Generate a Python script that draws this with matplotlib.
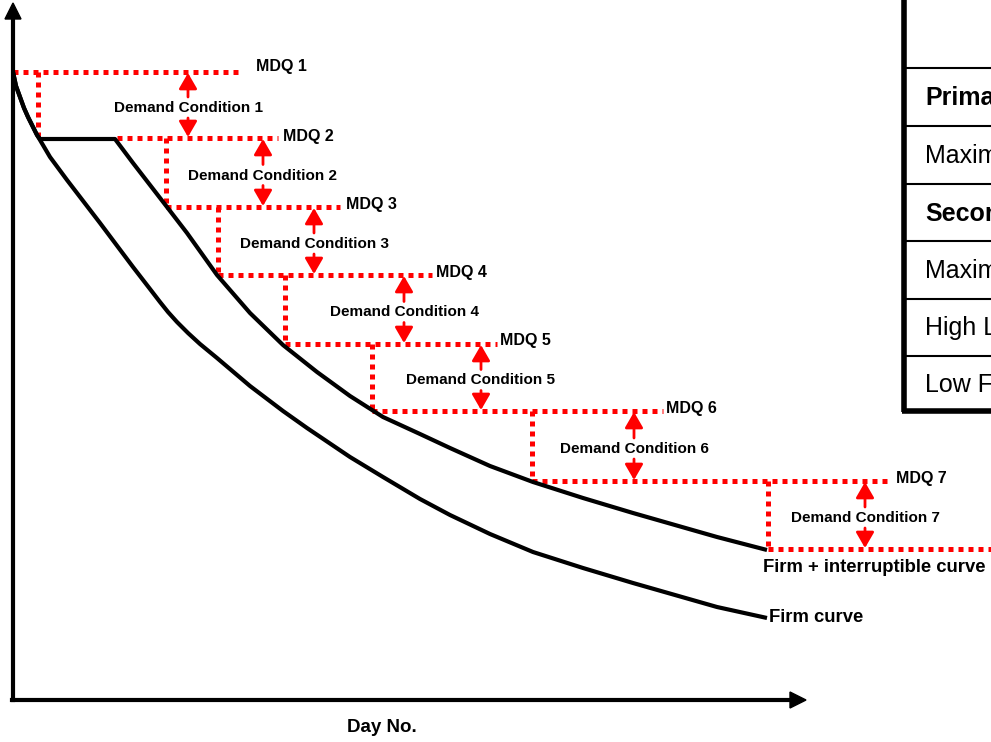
import numpy as np
import matplotlib.pyplot as plt
from matplotlib.patches import FancyArrowPatch, Polygon

plt.rcParams['font.family'] = ['Liberation Sans', 'DejaVu Sans']

# curves (x = day position, y = demand position, screen-like units, y grows downwards)
fi_x = [13, 16, 20, 24, 28, 33, 37, 40, 115, 133, 150, 167, 187, 217, 250, 283, 317,
        350, 383, 420, 450, 490, 533, 583, 633, 675, 717, 767]
fi_y = [72, 86, 97, 108, 117, 127, 135, 139, 139, 163, 185, 207, 233, 275, 313, 345, 372,
        396, 417, 434, 448, 466, 482, 498, 513, 525, 537, 550]
firm_x = [13, 16, 20, 24, 28, 33, 37, 40, 50, 67, 100, 133, 150, 160, 168, 177, 188, 200,
          217, 250, 283, 307, 350, 383, 420, 450, 490, 533, 583, 633, 675, 717, 767]
firm_y = [72, 86, 97, 108, 117, 127, 135, 140, 157, 180, 223, 267, 289, 302, 312, 322, 333, 344,
          358, 386, 411, 428, 457, 477, 499, 515, 534, 552, 568, 583, 595, 607, 618]

# MDQ levels and step geometry
mdq_y = [72, 138, 207, 275, 344, 411, 481, 549]
step_x = [13, 38, 166, 218, 285, 372, 532, 768]
line_end = [243, 278, 340, 432, 497, 663, 890, 991]
mdq_labels = ['MDQ 1', 'MDQ 2', 'MDQ 3', 'MDQ 4', 'MDQ 5', 'MDQ 6', 'MDQ 7']
label_x = [256, 283, 346, 436, 500, 666, 896]
label_y = [67, 136, 205, 273, 341, 409, 478]
dc_x = [188, 263, 314, 404, 481, 634, 865]
dc_labels = ['Demand Condition %d' % i for i in range(1, 8)]

table_rows = ['Primary', 'Maximum', 'Secondary', 'Maximum', 'High Load', 'Low Flow']
table_bold = [True, False, True, False, False, False]
row_lines = [68, 126, 184, 241, 299, 356]

fig = plt.figure(figsize=(9.91, 7.42), dpi=100)
ax = fig.add_axes([0, 0, 1, 1])
ax.set_xlim(0, 991)
ax.set_ylim(742, 0)
ax.axis('off')

red = '#ff0000'
dot = dict(color=red, lw=3.6, linestyle=(0, (1, 1)), dash_capstyle='butt', zorder=2)

# red steps
for i in range(len(mdq_y)):
    start = step_x[i] if i != 1 else 117
    ax.plot([start, line_end[i]], [mdq_y[i], mdq_y[i]], **dot)
for i in range(1, len(step_x)):
    ax.plot([step_x[i], step_x[i]], [mdq_y[i - 1], mdq_y[i]], **dot)
for i in range(7):
    ax.text(label_x[i], label_y[i], mdq_labels[i], fontsize=11.5, fontweight='bold',
            ha='left', va='center')

# demand condition arrows + labels
for i in range(7):
    top, bot = mdq_y[i], mdq_y[i + 1]
    mid = (top + bot) / 2.0
    for a, b in [(mid - 8, top + 1), (mid + 13, bot - 1)]:
        ax.add_patch(FancyArrowPatch((dc_x[i], a), (dc_x[i], b),
                                     arrowstyle='-|>,head_length=0.95,head_width=0.55',
                                     mutation_scale=10, color=red, lw=2,
                                     shrinkA=0, shrinkB=0, zorder=3))
    ax.text(dc_x[i], mid + 3, dc_labels[i], fontsize=11, fontweight='bold',
            ha='center', va='center', zorder=4,
            bbox=dict(facecolor='white', edgecolor='none', pad=0.5))

# curves
ax.plot(fi_x, fi_y, color='black', lw=3, solid_capstyle='butt', solid_joinstyle='round', zorder=5)
ax.plot(firm_x, firm_y, color='black', lw=3, solid_capstyle='butt', solid_joinstyle='round', zorder=5)
ax.text(763, 568, 'Firm + interruptible curve', fontsize=13.3, fontweight='bold',
        ha='left', va='center')
ax.text(769, 617, 'Firm curve', fontsize=13.3, fontweight='bold', ha='left', va='center')

# axes with arrow heads
ax.plot([13, 13], [700, 16], color='black', lw=3, zorder=6)
ax.plot([11.5, 792], [700, 700], color='black', lw=3, zorder=6)
ax.add_patch(Polygon([[5, 19], [21, 19], [13, 3]], closed=True, color='black', zorder=6))
ax.add_patch(Polygon([[790, 692], [790, 708], [806, 700]], closed=True, color='black', zorder=6))
ax.text(382, 728, 'Day No.', fontsize=13.5, fontweight='bold', ha='center', va='center')

# table (cut at the right edge)
ax.plot([904, 904], [0, 412], color='black', lw=4, solid_capstyle='butt')
ax.plot([902, 991], [411, 411], color='black', lw=4, solid_capstyle='butt')
for y in row_lines:
    ax.plot([904, 991], [y, y], color='black', lw=1.5)
for i, t in enumerate(table_rows):
    yc = (row_lines[i] + (row_lines[i + 1] if i + 1 < len(row_lines) else 411)) / 2.0
    ax.text(925, yc + 1, t, fontsize=18, fontweight='bold' if table_bold[i] else 'normal',
            ha='left', va='center', clip_on=False)

fig.savefig('out.png', dpi=100)
